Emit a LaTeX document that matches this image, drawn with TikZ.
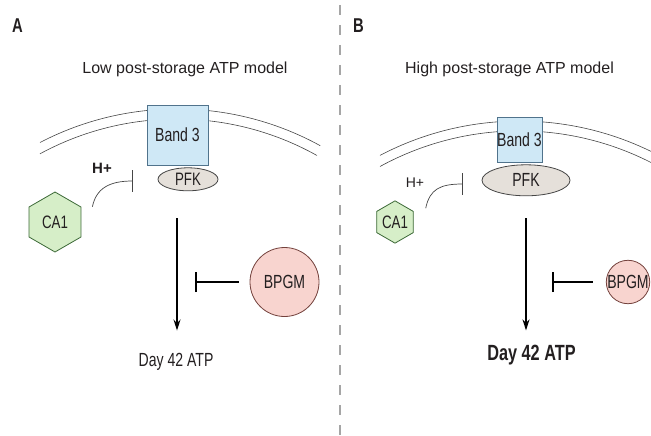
\documentclass[tikz,border=0pt]{standalone}
\usepackage{fontspec}
\setmainfont{Liberation Sans}
\newfontfamily\condfont[FakeStretch=0.74]{Liberation Sans}
\usepackage{tikz}
\usetikzlibrary{
arrows.meta,
positioning,
shapes.geometric
}
\definecolor{bandblue}{RGB}{207,232,246}
\definecolor{bandedge}{RGB}{80,115,140}
\definecolor{pfkgray}{RGB}{229,224,218}
\definecolor{cagreen}{RGB}{214,238,200}
\definecolor{caedge}{RGB}{60,105,55}
\definecolor{bpgmred}{RGB}{248,212,207}
\definecolor{bpgmedge}{RGB}{115,65,60}
\definecolor{memgray}{RGB}{70,70,70}
\definecolor{divgray}{RGB}{165,165,165}
\definecolor{inkdark}{RGB}{35,31,32}

\begin{document}
\begin{tikzpicture}[
  x=1pt, y=-1pt,
  every node/.style={text=inkdark},
  membrane/.style={draw=memgray, line width=0.6pt},
  band/.style={draw=bandedge, fill=bandblue, line width=0.8pt, inner sep=0pt, font=\condfont\fontsize{19}{21}\selectfont},
  enzyme/.style={draw=memgray, fill=pfkgray, ellipse, line width=0.8pt, inner sep=0pt, font=\condfont\fontsize{18}{20}\selectfont},
  hexa/.style={draw=caedge, fill=cagreen, regular polygon, regular polygon sides=6, shape border rotate=30, line width=0.8pt, inner sep=0pt, font=\condfont\fontsize{18}{20}\selectfont},
  mutase/.style={draw=bpgmedge, fill=bpgmred, circle, line width=0.8pt, inner sep=0pt, font=\condfont\fontsize{19}{21}\selectfont},
  title/.style={anchor=base, inner sep=0pt, font=\fontsize{16}{19}\selectfont},
  panel/.style={anchor=base west, inner sep=0pt, font=\condfont\bfseries\fontsize{20}{22}\selectfont},
  flow/.style={-{Stealth[length=11pt, width=7pt]}, line width=1.5pt, draw=black},
  inhibit/.style={-{Bar[width=20pt]}, line width=1.5pt, draw=black},
  weak/.style={-{Bar[width=22pt]}, line width=0.7pt, draw=memgray}
]
\useasboundingbox (0,0) rectangle (651,436);

% Divider
\draw[divgray, line width=1.3pt, dash pattern=on 10pt off 10pt] (340,5) -- (340,436);

% Panel A
\node[panel] (labelA) at (12,33) {A};
\node[title] (titleA) at (185,73.5) {Low post-storage ATP model};
\draw[membrane] (40,142.5) arc[start angle=-117.5, end angle=-61.2, radius=297];
\draw[membrane] (40,153.8) arc[start angle=-118.5, end angle=-60.8, radius=287];
\node[band, minimum width=61pt, minimum height=60pt] (bandA) at (177.5,135) {Band 3};
\node[enzyme, minimum width=60pt, minimum height=23pt, below=2pt of bandA, xshift=10.5pt] (pfkA) {PFK};
\node[hexa, minimum size=60pt] (caA) at (55,222) {CA1};
\node[anchor=base, inner sep=0pt, font=\bfseries\fontsize{15}{17}\selectfont] (hA) at (102,173) {H+};
\node[mutase, minimum size=69pt] (bpgmA) at (284.5,282) {BPGM};
\node[anchor=base, inner sep=2pt, font=\condfont\fontsize{19}{21}\selectfont] (dayA) at (176,366) {Day 42 ATP};
\coordinate (topA) at (177,218);
\coordinate (barA) at (195,282);
\coordinate (hbarA) at (133,181);

% Edges A
\draw[flow, shorten >=20pt] (topA) -- (topA |- dayA.north);
\draw[inhibit, shorten <=11pt] (bpgmA.west) -- (barA);
\draw[weak] ([xshift=11pt]caA.30) .. controls +(4,-19) and +(-23,0) .. (hbarA);

% Panel B
\node[panel] (labelB) at (353,33) {B};
\node[title] (titleB) at (509.5,74) {High post-storage ATP model};
\draw[membrane] (380,155.4) arc[start angle=-117.7, end angle=-60, radius=300];
\draw[membrane] (380,166.5) arc[start angle=-118.7, end angle=-59, radius=290];
\node[band, minimum width=45pt, minimum height=45pt] (bandB) at (519.5,139.5) {Band 3};
\node[enzyme, minimum width=88pt, minimum height=31pt, below=2pt of bandB, xshift=6.5pt, font=\condfont\fontsize{19}{21}\selectfont] (pfkB) {PFK};
\node[hexa, minimum size=34pt] (caB) at (395,222) {CA1};
\node[anchor=base, inner sep=0pt, font=\fontsize{14}{16}\selectfont] (hB) at (415,187) {H+};
\node[mutase, minimum size=40pt] (bpgmB) at (628,282) {BPGM};
\node[anchor=base, inner sep=2pt, font=\condfont\bfseries\fontsize{22}{24}\selectfont] (dayB) at (531.5,360) {Day 42 ATP};
\coordinate (topB) at (526,218);
\coordinate (barB) at (552,282);
\coordinate (hbarB) at (463,184);

% Edges B
\draw[flow, shorten >=12pt] (topB) -- (topB |- dayB.north);
\draw[inhibit, shorten <=13pt] (bpgmB.west) -- (barB);
\draw[weak] ([shift={(12pt,3pt)}]caB.30) .. controls +(4,-19) and +(-23,0) .. (hbarB);

\end{tikzpicture}
\end{document}
